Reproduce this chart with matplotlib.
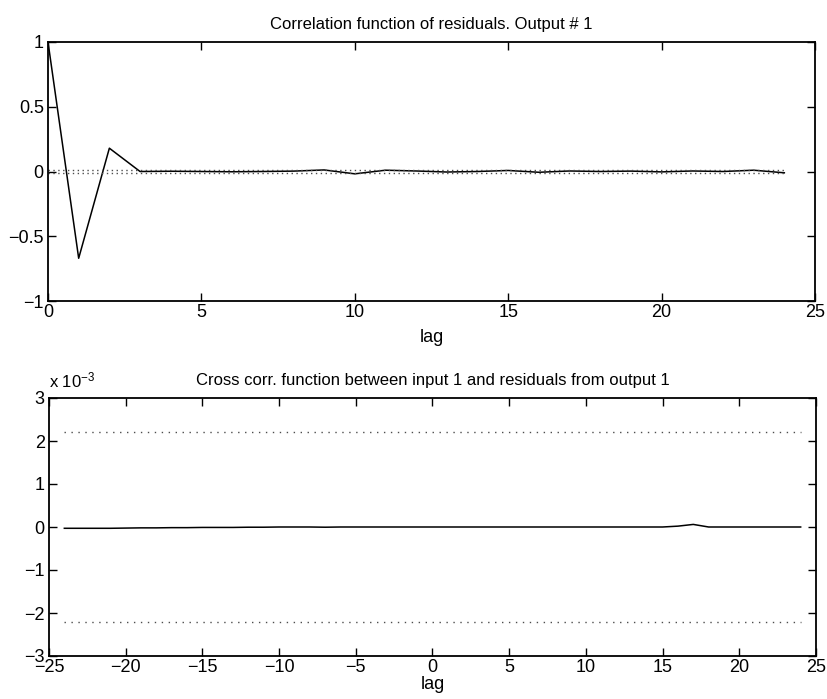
import numpy as np
import matplotlib.pyplot as plt

plt.rcParams['font.family'] = ['Liberation Sans', 'DejaVu Sans']
plt.rcParams['mathtext.fontset'] = 'custom'
plt.rcParams['mathtext.rm'] = 'Liberation Sans'
plt.rcParams['mathtext.it'] = 'Liberation Sans'

# autocorrelation of residuals, lags 0..24
acf_lags = np.arange(0, 25)
acf_vals = [1.0, -0.67, 0.18, 0.0, 0.002, 0.0, -0.002, 0.0, 0.003, 0.012,
            -0.018, 0.01, 0.004, -0.004, 0.0, 0.008, -0.006, 0.004, 0.0,
            0.003, -0.003, 0.004, 0.0, 0.01, -0.01]
acf_conf = 0.01

# cross correlation input 1 / residuals, lags -24..24 (units of 1e-3)
ccf_lags = np.arange(-24, 25)
ccf_vals = [-0.03, -0.03, -0.03, -0.03, -0.025, -0.02, -0.02, -0.015, -0.015,
            -0.01, -0.01, -0.01, -0.005, -0.005, 0.0, 0.0, 0.0, -0.005, 0.0,
            0.0, 0.0, 0.0, 0.0, 0.0, 0.0, 0.0, 0.0, 0.0, 0.0, 0.0, 0.0,
            0.0, 0.0, 0.0, 0.0, 0.0, 0.0, 0.0, 0.0, 0.0, 0.02, 0.06, 0.0,
            0.0, 0.0, 0.0, 0.0, 0.0, 0.0]
ccf_conf = 2.2

dots = (0, (1, 4))


def minus(vals):
    return [str(v).replace('-', '\u2212') for v in vals]


fig = plt.figure(figsize=(8.28, 6.99), dpi=100)
ax1 = fig.add_axes([48 / 828, 1 - 301 / 699, 767 / 828, 259 / 699])
ax2 = fig.add_axes([49 / 828, 1 - 656 / 699, 767 / 828, 258 / 699])

for ax in (ax1, ax2):
    ax.tick_params(direction='in', top=True, right=True, length=6,
                   width=1.0, labelsize=13)
    ax.tick_params(axis='x', pad=2)
    ax.tick_params(axis='y', pad=3)
    for sp in ax.spines.values():
        sp.set_linewidth(1.3)

ax1.plot(acf_lags, acf_vals, color='k', lw=1.1)
ax1.plot([0, 24], [acf_conf, acf_conf], color='0.3', lw=1.0, ls=(0, (1, 2.5)))
ax1.plot([0, 24], [-acf_conf, -acf_conf], color='0.3', lw=1.0, ls=(0, (1, 2.5)))
ax1.set_xlim(0, 25)
ax1.set_ylim(-1, 1)
ax1.set_xticks(range(0, 26, 5))
ax1.set_yticks([-1, -0.5, 0, 0.5, 1])
ax1.set_yticklabels(['\u22121', '\u22120.5', '0', '0.5', '1'])
ax1.set_title('Correlation function of residuals. Output # 1', fontsize=12, pad=9)
ax1.set_xlabel('lag', fontsize=13, labelpad=6)

ax2.plot(ccf_lags, ccf_vals, color='k', lw=1.1)
ax2.plot([-24, 24], [ccf_conf, ccf_conf], color='0.3', lw=1.0, ls=dots)
ax2.plot([-24, 24], [-ccf_conf, -ccf_conf], color='0.3', lw=1.0, ls=dots)
ax2.set_xlim(-25, 25)
ax2.set_ylim(-3, 3)
ax2.set_xticks(range(-25, 26, 5))
ax2.set_xticklabels(minus(range(-25, 26, 5)))
ax2.set_yticks(range(-3, 4))
ax2.set_yticklabels(minus(range(-3, 4)))
ax2.set_title('Cross corr. function between input 1 and residuals from output 1',
              fontsize=12, pad=9)
ax2.set_xlabel('lag', fontsize=13, labelpad=0)
ax2.text(0.0, 1.03, r'x 10$^{-3}$', transform=ax2.transAxes,
         fontsize=12, ha='left', va='bottom')

fig.savefig('out.png', dpi=100)
